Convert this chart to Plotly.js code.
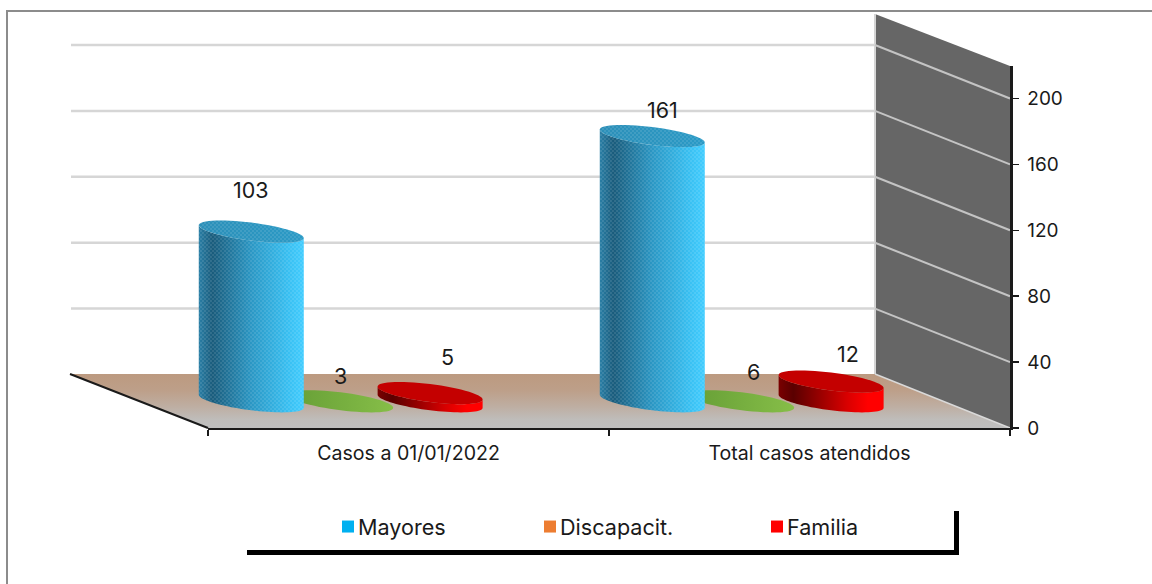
<!DOCTYPE html>
<html><head><meta charset="utf-8">
<script src="https://cdn.plot.ly/plotly-3.0.1.min.js"></script>
<style>html,body{margin:0;padding:0;background:#fff}</style></head>
<body><div id="chart" style="width:1152px;height:584px"></div>
<script>
const categories = ["Casos a 01/01/2022", "Total casos atendidos"];
const mayores = [103, 161];
const discapacit = [3, 6];
const familia = [5, 12];
const yTicks = [0, 40, 80, 120, 160, 200];

const FONT = 'Inter, "Open Sans", sans-serif';
const L = 208, R = 1010, T = 66, B = 428;
const X = p => (p - L) / (R - L), Y = p => (B - p) / (B - T);
const pxPerUnit = 1.6475;
const yMax = (B - T) / pxPerUnit;
const baseLift = 26.7 / pxPerUnit;       // bars stand mid-depth on the floor
const wallLift = 53.5 / pxPerUnit;       // back plane of the 3D box
const poly = pts => pts.map((p, i) => (i ? 'L' : 'M') + X(p[0]) + ',' + Y(p[1])).join(' ') + ' Z';
const paperShape = (pts, fill) => ({type: 'path', xref: 'paper', yref: 'paper', layer: 'below',
  path: poly(pts), fillcolor: fill, line: {width: 0}});
const seg = (x0, y0, x1, y1, color, width) => ({type: 'line', xref: 'paper', yref: 'paper', layer: 'below',
  x0: X(x0), y0: Y(y0), x1: X(x1), y1: Y(y1), line: {color, width}});

const shapes = [
  paperShape([[70,374],[875,374],[1010,428],[208,428]], '#BFBFBF'),   // floor, index 0
  paperShape([[875,14],[1010,66],[1010,428],[875,374]], '#666666'),
  seg(875, 14, 875, 374, '#D4D4D4', 2),
  seg(875, 374, 1010, 428, '#D9D9D9', 1.5),
  seg(70, 374, 208, 428, '#1a1a1a', 2)
];
yTicks.slice(1).forEach(v => {
  const by = B - v * pxPerUnit - wallLift * pxPerUnit, fy = B - v * pxPerUnit;
  shapes.push(seg(71, by, 875, by, '#D6D6D6', 2.5));
  shapes.push(seg(875, by, 1010, fy, '#C4C4C4', 2));
});
// page frame and legend box shadow
shapes.push(seg(7, 584, 7, 11, '#8C8C8C', 2), seg(6, 11, 1152, 11, '#8C8C8C', 2));
shapes.push(seg(247, 552.5, 959, 552.5, '#000', 5), seg(956.5, 511, 956.5, 555, '#000', 5));

const barW = 105 / ((R - L) / 2);
const bar = (name, y, color, offset, legend) => ({type: 'bar', name, x: categories, y, yaxis: 'y',
  width: barW, offset, cliponaxis: false, legend, hoverinfo: 'x+y',
  marker: {color, line: {width: 0}}});

const data = [
  bar('Discapacit.', discapacit, '#ED7D31', -0.300, 'legend2'),
  bar('Mayores', mayores, '#00B0F0', -0.523, 'legend'),
  bar('Familia', familia, '#FF0000', -0.077, 'legend3'),
  // keeps the visible value axis (0 at the front edge of the floor) on the chart
  {type: 'scatter', mode: 'none', x: [categories[0]], y: [0], yaxis: 'y2', showlegend: false, hoverinfo: 'skip'}
];

const labelFont = {family: FONT, size: 21.5, color: '#1a1a1a'};
const label = (cat, v, dx, dy) => ({xref: 'x', yref: 'y', x: cat, y: v, xshift: dx, yshift: dy,
  text: String(v), showarrow: false, font: labelFont, xanchor: 'center', yanchor: 'middle'});
const annotations = [
  label(0, mayores[0], -157.5, 41.5), label(1, mayores[1], -147.5, 26),
  label(0, discapacit[0], -68.5, 20), label(1, discapacit[1], -56.5, 19),
  label(0, familia[0], 38.5, 36), label(1, familia[1], 38.5, 27.5)
];

const legendAt = px => ({x: X(px), y: Y(506), xanchor: 'left', yanchor: 'top', xref: 'paper', yref: 'paper',
  bgcolor: 'rgba(0,0,0,0)', borderwidth: 0, font: {family: FONT, size: 21.6, color: '#1a1a1a'}});

const layout = {
  width: 1152, height: 584, showlegend: true, paper_bgcolor: '#fff', plot_bgcolor: 'rgba(0,0,0,0)',
  margin: {l: L, r: 1152 - R, t: T, b: 584 - B, pad: 0},
  barmode: 'overlay', shapes, annotations,
  legend: legendAt(318), legend2: legendAt(520), legend3: legendAt(747),
  xaxis: {type: 'category', categories, categoryorder: 'array', categoryarray: categories,
    range: [-0.5, 1.5], tickson: 'boundaries', ticks: 'outside', ticklen: 6, tickcolor: '#1a1a1a', tickwidth: 1.5,
    showgrid: false, zeroline: false, showline: true, linecolor: '#1a1a1a', linewidth: 2, ticklabelstandoff: 6,
    tickfont: {family: FONT, size: 19.6, color: '#1a1a1a'}},
  yaxis: {visible: false, range: [-baseLift, yMax - baseLift]},
  yaxis2: {overlaying: 'y', side: 'right', anchor: 'x', range: [0, yMax], tickmode: 'array', tickvals: yTicks,
    ticktext: yTicks.map(String), ticks: 'outside', ticklen: 6, tickcolor: '#1a1a1a', tickwidth: 1.5,
    showgrid: false, zeroline: false, showline: true, linecolor: '#1a1a1a', linewidth: 2.5, ticklabelstandoff: 5,
    tickfont: {family: FONT, size: 19, color: '#1a1a1a'}}
};

const NS = 'http://www.w3.org/2000/svg';
function gradient(defs, id, stops, vertical) {
  const g = document.createElementNS(NS, 'linearGradient');
  g.setAttribute('id', id);
  g.setAttribute('x1', '0'); g.setAttribute('y1', '0');
  g.setAttribute('x2', vertical ? '0' : '1'); g.setAttribute('y2', vertical ? '1' : '0');
  stops.forEach(s => {
    const st = document.createElementNS(NS, 'stop');
    st.setAttribute('offset', s[0]); st.setAttribute('stop-color', s[1]);
    g.appendChild(st);
  });
  defs.appendChild(g);
}
function dotPattern(defs) {
  const p = document.createElementNS(NS, 'pattern');
  p.setAttribute('id', 'dots'); p.setAttribute('patternUnits', 'userSpaceOnUse');
  p.setAttribute('width', '4'); p.setAttribute('height', '4');
  [[1, 1], [3, 3]].forEach(c => {
    const d = document.createElementNS(NS, 'circle');
    d.setAttribute('cx', c[0]); d.setAttribute('cy', c[1]); d.setAttribute('r', '0.8');
    d.setAttribute('fill', '#ffffff'); d.setAttribute('fill-opacity', '0.22');
    p.appendChild(d);
  });
  defs.appendChild(p);
}
// Turn each bar rectangle drawn by Plotly into a cylinder with a tilted elliptical cap.
const SHEAR = 6.5, RY = 9;
const arc = (cx, cy, rx, from, to, n) => {
  const out = [];
  for (let i = 0; i <= n; i++) {
    const t = from + (to - from) * i / n;
    out.push((cx + rx * Math.cos(t)).toFixed(2) + ',' + (cy + SHEAR * Math.cos(t) + RY * Math.sin(t)).toFixed(2));
  }
  return out;
};
function cylinders(gd) {
  const svg = gd.querySelector('.main-svg');
  const defs = svg.querySelector('defs');
  gradient(defs, 'gBlue', [[0, '#2A7FA6'], [0.13, '#1A5C7C'], [0.5, '#2B97C4'], [0.85, '#38BFF1'], [1, '#42CDFF']]);
  gradient(defs, 'gBlueTop', [[0, '#2C8FB8'], [1, '#2A9AC6']]);
  gradient(defs, 'gGreen', [[0, '#669E36'], [1, '#86BE48']]);
  gradient(defs, 'gRed', [[0, '#7A0000'], [0.14, '#5A0000'], [0.65, '#D80000'], [0.85, '#FF0000'], [1, '#FF0000']]);
  gradient(defs, 'gFloor', [[0, '#BC9A80'], [0.3, '#BD9F89'], [0.6, '#BEAEA2'], [0.85, '#BFBDBB'], [1, '#BFBFBF']], true);
  dotPattern(defs);
  const floor = gd.querySelector('.layer-below .shapelayer path[data-index="0"]');
  if (floor) floor.style.fill = 'url(#gFloor)';
  const style = {
    'Mayores': {body: 'url(#gBlue)', top: 'url(#gBlueTop)', dots: true},
    'Discapacit.': {flat: 'url(#gGreen)'},
    'Familia': {body: 'url(#gRed)', top: '#C40000'}
  };
  gd.querySelectorAll('.barlayer .trace').forEach(tr => {
    const s = style[tr.__data__[0].trace.name];
    tr.querySelectorAll('.point path').forEach(path => {
      const b = path.getBBox();
      const cx = b.x + b.width / 2, rx = b.width / 2, yt = b.y, yb = b.y + b.height;
      const add = (d, fill) => {
        const e = document.createElementNS(NS, 'path');
        e.setAttribute('d', d); e.style.fill = fill; e.style.stroke = 'none';
        path.parentNode.appendChild(e);
      };
      path.removeAttribute('clip-path');
      path.style.clipPath = 'none';
      if (s.flat) {
        path.setAttribute('d', 'M' + arc(cx, yb, rx, 0, 2 * Math.PI, 60).join('L') + 'Z');
        path.style.fill = s.flat;
        return;
      }
      const top = 'M' + arc(cx, yt, rx, 0, 2 * Math.PI, 60).join('L') + 'Z';
      const body = 'M' + [(cx - rx).toFixed(2) + ',' + (yt - SHEAR).toFixed(2)]
        .concat(arc(cx, yb, rx, Math.PI, 0, 40))
        .concat([(cx + rx).toFixed(2) + ',' + (yt + SHEAR).toFixed(2)])
        .concat(arc(cx, yt, rx, 0, Math.PI, 40)).join('L') + 'Z';
      path.setAttribute('d', body);
      path.style.fill = s.body;
      if (s.dots) add(body, 'url(#dots)');
      add(top, s.top);
      if (s.dots) add(top, 'url(#dots)');
    });
  });
  // pull each legend swatch next to its text
  gd.querySelectorAll('.legendsymbols').forEach(e => e.setAttribute('transform', 'translate(10,0)'));
}
Plotly.newPlot('chart', data, layout, {displayModeBar: false, staticPlot: true}).then(cylinders);
</script>
</body></html>
